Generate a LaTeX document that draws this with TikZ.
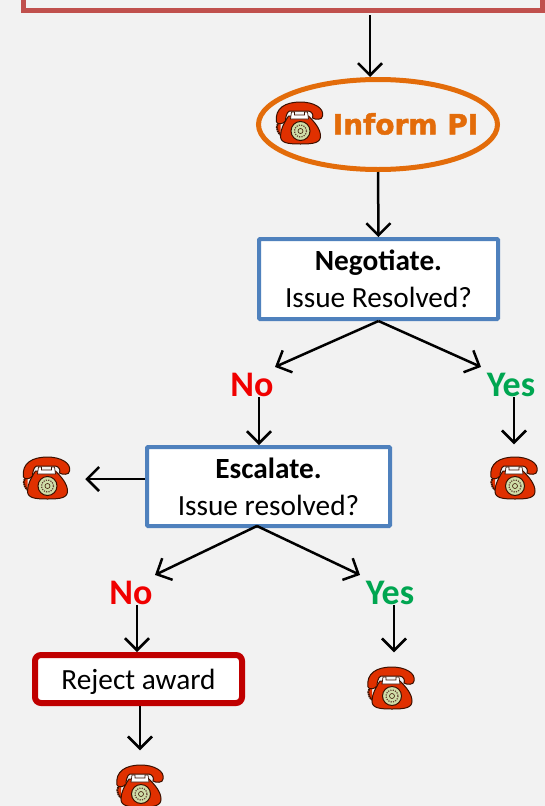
\documentclass[tikz,border=0pt]{standalone}
\usepackage{fontspec}
\setmainfont{Carlito}
\newfontfamily\informfont[BoldFeatures={FakeBold=1.6}]{DejaVu Sans}
\usetikzlibrary{arrows.meta,shapes.geometric}
\definecolor{pagegray}{HTML}{F2F2F2}
\definecolor{topred}{HTML}{C0504D}
\definecolor{informorange}{HTML}{E36C0A}
\definecolor{boxblue}{HTML}{4F81BD}
\definecolor{rejectred}{HTML}{C00000}
\definecolor{nored}{HTML}{F00000}
\definecolor{yesgreen}{HTML}{00A651}
\definecolor{phonered}{HTML}{E03000}
\definecolor{phoneline}{HTML}{3A1000}
\definecolor{dialgreen}{HTML}{CFDDA8}
\newsavebox{\phonebox}
\sbox{\phonebox}{\begin{tikzpicture}[x=1pt,y=-1pt,line width=1pt,draw=phoneline]
		% cord
		\draw[fill=phonered,dash pattern=on 1.6pt off .6pt,line width=1.8pt] (5,19) .. controls (0,22) and (0,28) .. (5,33);
		% body
		\draw[fill=phonered] (13,14) -- (33,14) .. controls (39,20) and (45,27) .. (45,34) .. controls (45,41) and (38,42) .. (25,42) .. controls (12,42) and (5,41) .. (5,34) .. controls (5,27) and (9,20) .. (13,14) -- cycle;
		% handset
		\draw[fill=phonered] (1,20) .. controls (-1,6) and (10,0) .. (25,0) .. controls (38,0) and (49,6) .. (47,14) .. controls (47,18) and (40,18) .. (37,16) .. controls (38,13) and (37,10) .. (33,9) -- (14,9) .. controls (11,10) and (10,16) .. (10,19) .. controls (8,22) and (2,23) .. (1,20) -- cycle;
		% cradle
		\draw[fill=white,line width=.7pt] (16,10) -- (19,10) -- (19,13) -- (29,13) -- (29,10) -- (32,10) -- (33,17) -- (15,17) -- cycle;
		% dial
		\draw[fill=dialgreen] (25,29) circle (9.5);
		\draw[line width=1.2pt,dash pattern=on 1.2pt off 1.2pt,draw=phoneline!80] (25,29) circle (6);
		\draw[line width=.6pt] (25,29) circle (2.5);
	\end{tikzpicture}}

\begin{document}
\begin{tikzpicture}[->,x=1pt,y=-1pt,>={Straight Barb[length=12pt,width=24pt]},
		line width=2.5pt,
		every node/.style={font=\fontsize{29.3}{37}\selectfont,align=center,inner sep=0pt},
		top box/.style={rectangle,draw=topred,line width=5pt,minimum width=519.3pt,minimum height=120pt},
		inform ellipse/.style={ellipse,draw=informorange,line width=5pt,minimum width=239pt,minimum height=90pt},
		blue box/.style={rectangle,draw=boxblue,fill=white,line width=4pt,rounded corners=1pt},
		reject box/.style={rectangle,draw=rejectred,fill=white,line width=6pt,rounded corners=6pt,minimum width=207pt,minimum height=48pt,text depth=0pt},
		no node/.style={font=\fontsize{36}{36}\selectfont\bfseries,text=nored},
		yes node/.style={font=\fontsize{36}{36}\selectfont\bfseries,text=yesgreen}]

		\useasboundingbox[fill=pagegray] (0,0) rectangle (545,806);

		\node[top box] (top) at (283.3,-49.5) {};
		\node[inform ellipse] (inform) at (378,124.5) {};
		\node[text=informorange,font=\informfont\fontsize{28}{30}\selectfont\bfseries] (informtext) at (405.5,124) {Inform PI};
		\node (phone1) at (299.5,123) {\usebox{\phonebox}};

		\node[blue box,minimum width=239pt,minimum height=80pt] (negotiate) at (378.5,279) {\textbf{Negotiate.}\\Issue Resolved?};
		\node[no node] (no1) at (252,385) {No};
		\node[yes node] (yes1) at (511,385) {Yes};
		\node (phone2) at (514,478) {\usebox{\phonebox}};

		\node[blue box,minimum width=243pt,minimum height=79pt] (escalate) at (268.5,486.5) {\textbf{Escalate.}\\Issue resolved?};
		\node (phone3) at (46.5,478) {\usebox{\phonebox}};
		\node[no node] (no2) at (131,593) {No};
		\node[yes node] (yes2) at (390,593) {Yes};
		\node (phone4) at (391,688) {\usebox{\phonebox}};

		\node[reject box] (reject) at (138.5,679) {Reject award};
		\node (phone5) at (140,786) {\usebox{\phonebox}};

		\path[every node/.style={}]
		([xshift=86.7pt,yshift=-2pt]top.south) edge ([xshift=-8pt]inform.north)
		(inform.south) edge (negotiate.north)
		(negotiate.south) edge ([xshift=23pt,yshift=5pt]no1.north)
		(negotiate.south) edge ([xshift=-30pt,yshift=5pt]yes1.north)
		([xshift=7pt,yshift=1pt]no1.south) edge ([xshift=-9.5pt]escalate.north)
		([xshift=3pt,yshift=1pt]yes1.south) edge ([yshift=11pt]phone2.north)
		([yshift=7.5pt]escalate.west) edge ([xshift=12pt,yshift=-1pt]phone3.east)
		([xshift=-11.5pt,yshift=2pt]escalate.south) edge ([xshift=24pt,yshift=5pt]no2.north)
		([xshift=-11.5pt,yshift=2pt]escalate.south) edge ([xshift=-30pt,yshift=5pt]yes2.north)
		([xshift=6pt,yshift=1pt]no2.south) edge ([xshift=-1.5pt]reject.north)
		([xshift=4pt,yshift=1pt]yes2.south) edge ([xshift=3pt,yshift=13pt]phone4.north)
		([xshift=1.5pt]reject.south) edge ([yshift=13pt]phone5.north);
\end{tikzpicture}
\end{document}
